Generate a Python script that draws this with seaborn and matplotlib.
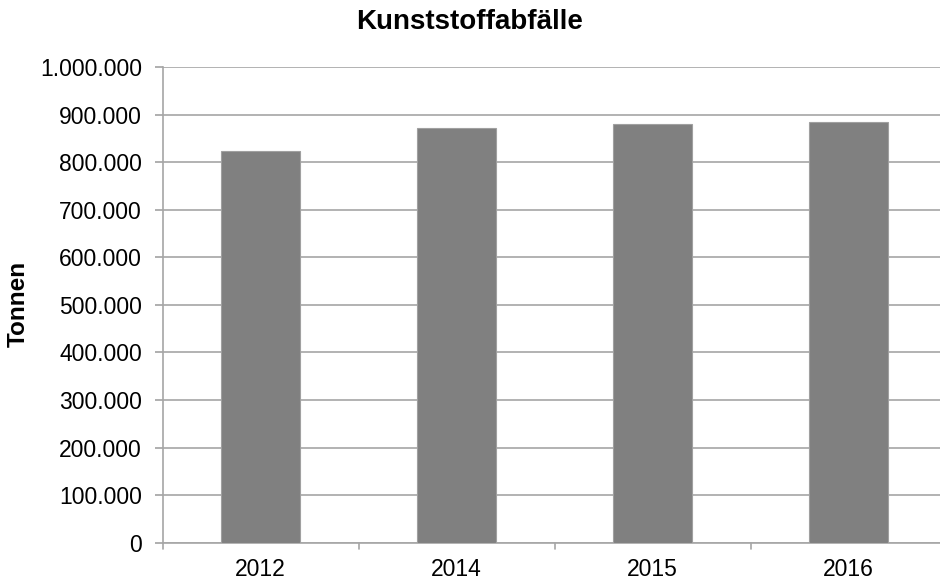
import matplotlib
matplotlib.use('Agg')
import matplotlib.pyplot as plt
import matplotlib.ticker as mticker
import seaborn as sns
import pandas as pd

years = ['2012', '2014', '2015', '2016']
tonnen = [824000, 871500, 880600, 885400]

sns.set_theme(style='white')
plt.rcParams['font.family'] = ['Liberation Sans', 'DejaVu Sans']
plt.rcParams['text.color'] = 'black'

df = pd.DataFrame({'Jahr': years, 'Tonnen': tonnen})

fig = plt.figure(figsize=(9.4, 5.83), dpi=100)
ax = fig.add_axes([0.173, 0.069, 0.834, 0.816])
sns.barplot(data=df, x='Jahr', y='Tonnen', color='#808080', width=0.4,
            saturation=1, edgecolor='#a0a0a0', linewidth=0.8, ax=ax, zorder=3)

ax.set_ylim(0, 1000000)
ax.set_xlim(-0.5, 3.5)
ax.yaxis.set_major_locator(mticker.MultipleLocator(100000))
ax.yaxis.set_major_formatter(mticker.FuncFormatter(lambda v, p: f'{int(v):,}'.replace(',', '.')))
ax.grid(axis='y', color='#a6a6a6', linewidth=1.2, zorder=0)
ax.set_axisbelow(True)

for s in ['top', 'right']:
    ax.spines[s].set_visible(False)
for s in ['left', 'bottom']:
    ax.spines[s].set_color('#a6a6a6')
    ax.spines[s].set_linewidth(1.2)

ax.tick_params(axis='y', left=True, length=6, color='#a6a6a6', labelsize=16.5, pad=9, labelcolor='black')
ax.tick_params(axis='x', bottom=False, labelsize=16.5, pad=5, labelcolor='black')
# tick marks between the categories
for b in [-0.5, 0.5, 1.5, 2.5, 3.5]:
    ax.plot([b, b], [0, -0.014], transform=ax.get_xaxis_transform(), color='#a6a6a6',
            linewidth=1.2, clip_on=False)

ax.set_xlabel('')
ax.set_ylabel('')
fig.text(18 / 940, 1 - 304 / 583, 'Tonnen', rotation=90, ha='center', va='center',
         fontsize=17.5, fontweight='bold', color='black')
fig.text(0.5, 0.962, 'Kunststoffabfälle', ha='center', va='center', fontsize=20,
         fontweight='bold', color='black')

fig.savefig('out.png', dpi=100)
